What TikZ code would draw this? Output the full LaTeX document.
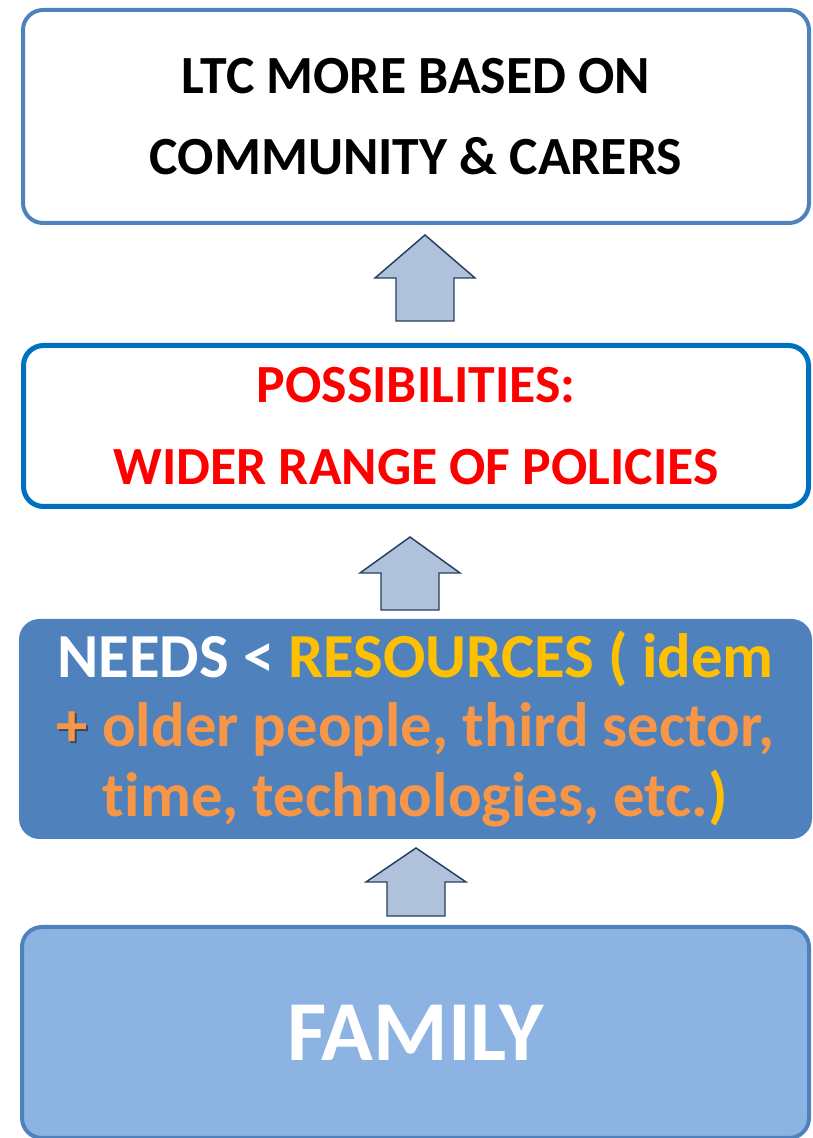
\documentclass[tikz,border=0pt]{standalone}
\usepackage{fontspec}
\setmainfont{Carlito}[Ligatures=NoCommon]
\definecolor{cblue}{HTML}{4F81BD}
\definecolor{cdeep}{HTML}{0070C0}
\definecolor{clight}{HTML}{8DB3E2}
\definecolor{carrow}{HTML}{B0C1DC}
\definecolor{cnavy}{HTML}{243F60}
\definecolor{cgold}{HTML}{FFC000}
\definecolor{corange}{HTML}{F79646}
\definecolor{cred}{HTML}{FF0000}
\definecolor{cshade}{HTML}{3A4A5E}
\newcommand{\plusmark}{\makebox[0pt][l]{\raisebox{-1.2pt}{\hspace{1.2pt}\textcolor{cshade}{+}}}\textcolor{corange}{+}}
% block arrow: x, tip y, wing y, bottom y
\newcommand{\blockup}[4]{%
  \draw[uparr] (#1,#2) -- (#1+50,#3) -- (#1+29,#3) -- (#1+29,#4)
    -- (#1-29,#4) -- (#1-29,#3) -- (#1-50,#3) -- cycle;}
\tikzset{
  panel/.style={rounded corners=15pt, align=center, inner sep=0pt},
  uparr/.style={draw=cnavy, fill=carrow, line width=1.1pt, line join=miter},
}

\begin{document}
\begin{tikzpicture}[x=0.75pt, y=0.75pt]
  \useasboundingbox (0,0) rectangle (813,1138);
  \clip (0,0) rectangle (813,1138);
  % top: outcome
  \node[panel, draw=cblue, line width=3pt, fill=white, minimum width=589.5pt,
        minimum height=159.75pt, font=\fontsize{40.3}{61}\selectfont\bfseries] (ltc)
    at (416,1021.5) {LTC MORE BASED ON\\COMMUNITY \& CARERS};
  % possibilities
  \node[panel, draw=cdeep, line width=3.75pt, fill=white, minimum width=588.75pt,
        minimum height=120.75pt, text=cred,
        font=\fontsize{40.3}{61.5}\selectfont\bfseries] (poss)
    at (416,712) {POSSIBILITIES:\\WIDER RANGE OF POLICIES};
  % needs vs resources
  \node[panel, draw=cblue, line width=0.75pt, fill=cblue, minimum width=594pt,
        minimum height=164.25pt, text=corange,
        font=\fontsize{47}{52}\selectfont\bfseries] (needs)
    at (415.5,409) {\textcolor{white}{NEEDS <} \textcolor{cgold}{RESOURCES ( idem}\\
      \plusmark{} older people, third sector,\\
      time, technologies, etc.\textcolor{cgold}{)}};
  % family
  \node[panel, draw=cblue, line width=3pt, fill=clight, minimum width=590.25pt,
        minimum height=158.25pt, text=white,
        font=\fontsize{64}{70}\selectfont\bfseries] (family)
    at (415.5,105.5) {FAMILY};
  % block arrows between the panels
  \blockup{425}{903}{860}{817}
  \blockup{410}{601}{565}{528}
  \blockup{416}{290}{256}{222}
\end{tikzpicture}
\end{document}
